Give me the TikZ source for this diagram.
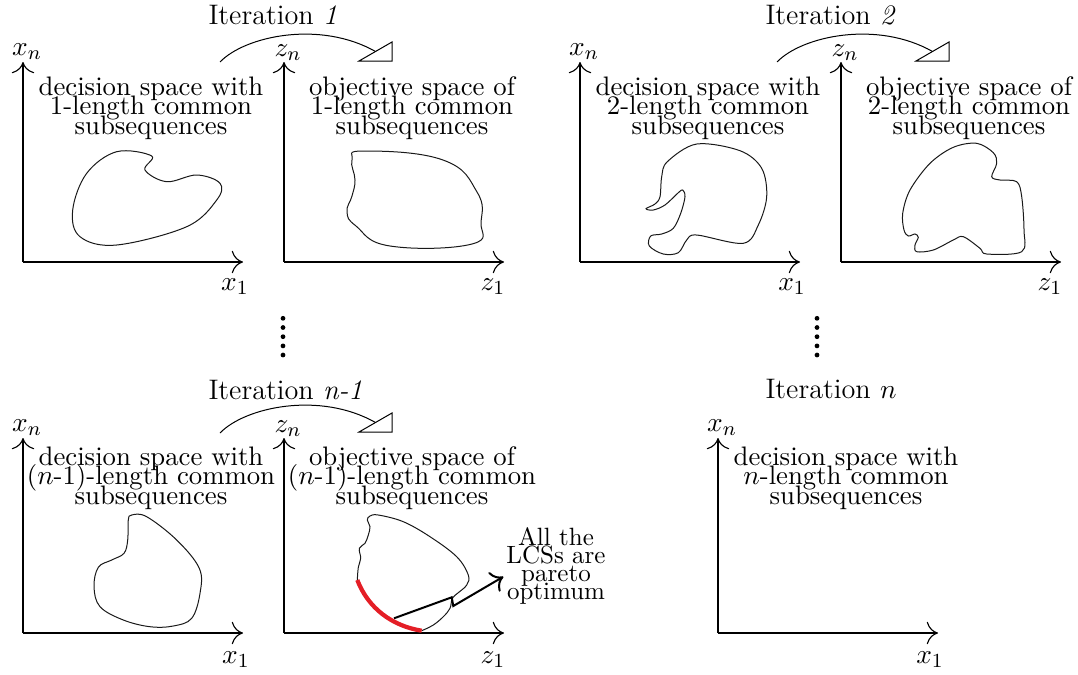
\documentclass[tikz,border=0pt]{standalone}
\usetikzlibrary{arrows.meta}
\definecolor{paretored}{RGB}{228,30,38}
\newcommand\tightlines{\lineskiplimit-20pt\relax}
\begin{document}
\begin{tikzpicture}[x=0.4pt,y=-0.4pt,
  axis/.style={line width=0.45pt,-{Computer Modern Rightarrow[length=4.5pt,width=9pt]}},
  blob/.style={line width=0.4pt,black!90},
  lbl/.style={font={\fontsize{10.7}{7.8}\selectfont\tightlines}, align=center, inner sep=0pt},
  ttl/.style={font={\fontsize{11.3}{12}\selectfont}, anchor=west, inner sep=0pt},
  ax/.style={font={\fontsize{10.8}{12}\selectfont}, inner sep=0pt},
  note/.style={font={\fontsize{10}{7.3}\selectfont\tightlines}, align=center, inner sep=0pt},
  flow/.style={line width=0.4pt},
  flowtip/.style={line width=0.4pt, line join=miter},
  dot/.style={fill=black, circle, inner sep=0pt, minimum size=1.9pt}]
\useasboundingbox (0,0) rectangle (1078,674);

% ---------- titles
\node[ttl] (it1) at (208,15) {Iteration \textit{1}};
\node[ttl] (it2) at (765,15) {Iteration \textit{2}};
\node[ttl] (itn1) at (208,390) {Iteration \textit{n-1}};
\node[ttl] (itn) at (765,389) {Iteration $n$};

% ---------- panel A (top-left)
\coordinate (oA) at (23,262); \coordinate (xA) at (243,262); \coordinate (yA) at (23,62);
\draw[axis] (oA) -- (xA); \draw[axis] (oA) -- (yA);
\node[ax] (lynA) at (27,52) {$x_n$};
\node[ax] (lx1A) at (235,287) {$x_1$};
\node[lbl] (tA) at (151,108) {decision space with\\1-length common\\subsequences};
\draw[blob] plot[smooth cycle, tension=0.6] coordinates {(116.7,151.7) (151.7,156) (145,170) (166.7,181.7) (196.7,175) (220,183.3) (216.7,200) (186.7,226.7) (116.7,245) (80,236.7) (72.7,210) (86.7,173.3)};

% ---------- panel B (top, objective)
\coordinate (oB) at (284,262); \coordinate (xB) at (504,262); \coordinate (yB) at (284,62);
\draw[axis] (oB) -- (xB); \draw[axis] (oB) -- (yB);
\node[ax] (lynB) at (288,53) {$z_n$};
\node[ax] (lx1B) at (493,287) {$z_1$};
\node[lbl] (tB) at (412,108) {objective space of\\1-length common\\subsequences};
\draw[blob] plot[smooth cycle, tension=0.75] coordinates {(364,151) (443,160) (477,192) (481,222) (472,244) (390,246) (356,226) (347,212) (352,196) (355,180) (352,160)};

% ---------- panel C (top-right decision)
\coordinate (oC) at (580,262); \coordinate (xC) at (800,262); \coordinate (yC) at (580,62);
\draw[axis] (oC) -- (xC); \draw[axis] (oC) -- (yC);
\node[ax] (lynC) at (584,52) {$x_n$};
\node[ax] (lx1C) at (792,287) {$x_1$};
\node[lbl] (tC) at (708,108) {decision space with\\2-length common\\subsequences};
\draw[blob] plot[smooth cycle, tension=0.55] coordinates {(661.7,176.7) (667.3,161.7) (696.7,144) (740,150.7) (761.7,168.3) (766.7,196.7) (758.3,225) (743.3,243.3) (696.7,235) (686.7,240) (678.3,252.7) (663.3,254) (649.3,246) (650.7,236) (661.7,234) (673.3,228.3) (680.7,213.3) (685,196.7) (682.7,190) (678.3,192.7) (665,205) (653.3,210) (646,208.7) (655,204) (660,196.7)};

% ---------- panel D (top-right objective)
\coordinate (oD) at (841,262); \coordinate (xD) at (1061,262); \coordinate (yD) at (841,62);
\draw[axis] (oD) -- (xD); \draw[axis] (oD) -- (yD);
\node[ax] (lynD) at (845,53) {$z_n$};
\node[ax] (lx1D) at (1050,287) {$z_1$};
\node[lbl] (tD) at (969,108) {objective space of\\2-length common\\subsequences};
\draw[blob] plot[smooth cycle, tension=0.55] coordinates {(976.7,143.3) (993.3,152.7) (996.7,163.3) (991.7,176.7) (1000,180) (1016.7,181.7) (1021.7,196.7) (1024,230) (1021.7,251.7) (986.7,254) (980,248.3) (963.3,236.7) (953.3,240) (933.3,250) (916.7,251.7) (915,245) (918.3,237.3) (915,234) (908.3,236) (904,230) (902.7,213.3) (910,190) (930,163.3) (953.3,147.3)};

% ---------- panel E (bottom-left decision)
\coordinate (oE) at (23,633); \coordinate (xE) at (243,633); \coordinate (yE) at (23,438);
\draw[axis] (oE) -- (xE); \draw[axis] (oE) -- (yE);
\node[ax] (lynE) at (27,428) {$x_n$};
\node[ax] (lx1E) at (236,660) {$x_1$};
\node[lbl] (tE) at (151,478) {decision space with\\($n$-1)-length common\\subsequences};
\draw[blob] plot[smooth cycle, tension=0.6] coordinates {(131.7,515) (146.7,516.7) (176.7,540) (199.3,568.3) (200,593.3) (191.7,618.3) (173.3,626) (150,626.7) (123.3,620) (100,606.7) (94,586.7) (98.3,567.3) (111.7,560) (124,553.3) (127.7,540) (128.3,520)};

% ---------- panel F (bottom objective)
\coordinate (oF) at (284,633); \coordinate (xF) at (504,633); \coordinate (yF) at (284,438);
\draw[axis] (oF) -- (xF); \draw[axis] (oF) -- (yF);
\node[ax] (lynF) at (288,429) {$z_n$};
\node[ax] (lx1F) at (493,660) {$z_1$};
\node[lbl] (tF) at (412,478) {objective space of\\($n$-1)-length common\\subsequences};
\draw[blob] plot[smooth, tension=0.6] coordinates {(357.3,580) (358.3,567.3) (360.7,558.3) (359.3,548.3) (365,543.3) (368.3,535) (370,526.7) (367.3,520) (370,516) (378.3,515) (403.3,521.7) (430,536.7) (456.7,556.7) (468.3,575) (466.7,585) (458.3,592.7) (452.3,598.3) (450,608.3) (443.3,616.7) (433.3,625) (421.7,630.7)};
\draw[paretored, line width=1.7pt] (357.3,580) .. controls (368,608) and (392,626) .. (421.7,630.7);
\node[note] (nF) at (556,566) {All the\\LCSs are\\pareto\\optimum};
\coordinate (pF) at (394,618.3);
\coordinate (qF) at (451.7,597.3);
\coordinate (rF) at (453.3,606);
\coordinate (tipF) at (503.3,576.7);
\draw[line width=0.8pt, -{Computer Modern Rightarrow[length=4.5pt,width=9pt]}] (pF) -- (qF) -- (rF) -- (tipF);

% ---------- panel G (bottom-right decision)
\coordinate (oG) at (718,633); \coordinate (xG) at (938,633); \coordinate (yG) at (718,438);
\draw[axis] (oG) -- (xG); \draw[axis] (oG) -- (yG);
\node[ax] (lynG) at (722,428) {$x_n$};
\node[ax] (lx1G) at (930,660) {$x_1$};
\node[lbl] (tG) at (846,478) {decision space with\\$n$-length common\\subsequences};

% ---------- mapping arrows
\coordinate (s1) at (220,62); \coordinate (e1) at (375.5,51.5);
\draw[flow] (s1) .. controls (245,36) and (320,20) .. (e1);
\draw[flowtip] (359,61) -- (392,42) -- (392,61) -- cycle;
\coordinate (s2) at (777,62); \coordinate (e2) at (932.5,51.5);
\draw[flow] (s2) .. controls (802,36) and (877,20) .. (e2);
\draw[flowtip] (916,61) -- (949,42) -- (949,61) -- cycle;
\coordinate (s3) at (220,433); \coordinate (e3) at (375.5,422.5);
\draw[flow] (s3) .. controls (245,407) and (320,391) .. (e3);
\draw[flowtip] (359,432) -- (392,413) -- (392,432) -- cycle;

% ---------- vertical dots
\foreach \yy [count=\i] in {318.3,327.5,336.7,345.9,355} {
  \node[dot] (dl\i) at (283,\yy) {};
  \node[dot] (dr\i) at (817,\yy) {};
}
\end{tikzpicture}
\end{document}
